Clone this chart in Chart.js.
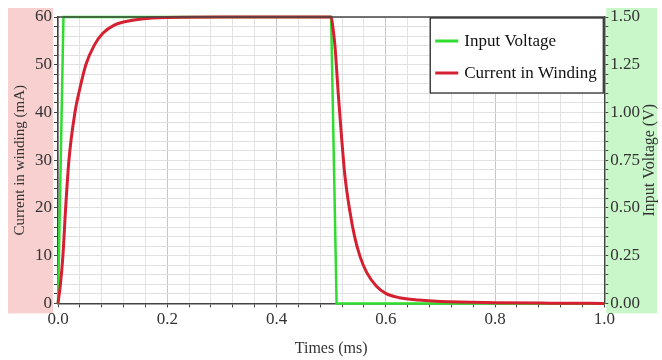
<!DOCTYPE html>
<html lang="en">
<head>
<meta charset="UTF-8">
<title>Current in Winding and Input Voltage</title>
<script src="https://cdn.jsdelivr.net/npm/chart.js"></script>
<style>
  html, body { margin: 0; padding: 0; background: #fff; }
  #wrap { width: 662px; height: 360px; position: relative; }
</style>
</head>
<body>
<div id="wrap"><canvas id="chart"></canvas></div>
<script>
// current in winding (mA) vs time (ms)
const currentTime = [0, 0.004, 0.009, 0.014, 0.02, 0.031, 0.039, 0.051, 0.0665, 0.082, 0.103, 0.122, 0.153, 0.2, 0.3, 0.4, 0.5,
  0.503, 0.507, 0.513, 0.519, 0.525, 0.534, 0.543, 0.553, 0.565, 0.583, 0.6, 0.625, 0.66, 0.7, 0.8, 0.9, 1.0];
const currentMA = [0, 3.5, 10, 20, 30, 40, 44.5, 50, 54.1, 56.6, 58.3, 59, 59.6, 59.9, 60, 60, 60,
  58, 54, 44, 35, 27, 19.5, 14, 9.8, 6.5, 3.6, 2.1, 1.2, 0.7, 0.4, 0.15, 0.05, 0];

// input voltage (V) vs time (ms)
const voltageTime = [0, 0.01, 0.5, 0.51, 1.0];
const voltageV = [0, 1.5, 1.5, 0, 0];

const xTicks = ['0.0', '0.2', '0.4', '0.6', '0.8', '1.0'];
const leftTicks = ['0', '10', '20', '30', '40', '50', '60'];
const rightTicks = ['0.00', '0.25', '0.50', '0.75', '1.00', '1.25', '1.50'];

const serif = "'Liberation Serif', 'Times New Roman', serif";
const dark = '#333';
const axisLine = '#444';

function onStep(v, step) {
  const r = v / step;
  return Math.abs(r - Math.round(r)) < 1e-6;
}

function pickLabel(list, v, step) {
  if (!onStep(v, step)) return '';
  return list[Math.round(v / step)];
}

const extras = {
  id: 'extras',
  beforeDraw(chart) {
    const c = chart.ctx, a = chart.chartArea;
    c.save();
    c.fillStyle = '#f8d0d0';
    c.fillRect(8, a.top - 9, a.left - 13, a.bottom - a.top + 19);
    c.fillStyle = '#c9f7c9';
    c.fillRect(a.right + 2, a.top - 9, 657 - a.right - 2, a.bottom - a.top + 19);
    c.restore();
  },
  afterDraw(chart) {
    const c = chart.ctx, a = chart.chartArea;
    c.save();
    // top frame
    c.strokeStyle = axisLine;
    c.lineWidth = 1.5;
    c.beginPath();
    c.moveTo(a.left, a.top);
    c.lineTo(a.right, a.top);
    c.stroke();

    // right title, read bottom to top
    c.fillStyle = dark;
    c.font = '16px ' + serif;
    c.textAlign = 'center';
    c.textBaseline = 'middle';
    c.translate(650, (a.top + a.bottom) / 2);
    c.rotate(-Math.PI / 2);
    c.fillText('Input Voltage (V)', 0, 0);
    c.restore();

    // legend box
    c.save();
    const bx = a.right - 174, by = a.top + 1, bw = 173, bh = 75;
    c.fillStyle = '#fff';
    c.fillRect(bx, by, bw, bh);
    c.strokeStyle = '#222';
    c.lineWidth = 1.2;
    c.strokeRect(bx, by, bw, bh);
    c.font = '17px ' + serif;
    c.textBaseline = 'middle';
    c.textAlign = 'left';
    chart.data.datasets.forEach((ds, i) => {
      const y = by + 23 + i * 32;
      c.strokeStyle = ds.borderColor;
      c.lineWidth = 3;
      c.beginPath();
      c.moveTo(bx + 5, y);
      c.lineTo(bx + 28, y);
      c.stroke();
      c.fillStyle = '#111';
      c.fillText(ds.label, bx + 34, y + 1);
    });
    c.restore();
  }
};

new Chart(document.getElementById('chart'), {
  type: 'line',
  data: {
    datasets: [{
      label: 'Input Voltage',
      data: voltageTime.map((t, i) => ({ x: t, y: voltageV[i] })),
      yAxisID: 'y1',
      borderColor: '#2fdc2f',
      borderWidth: 2.5,
      pointRadius: 0,
      tension: 0,
      clip: 4,
      order: 2
    }, {
      label: 'Current in Winding',
      data: currentTime.map((t, i) => ({ x: t, y: currentMA[i] })),
      yAxisID: 'y',
      borderColor: '#d42030',
      borderWidth: 3,
      pointRadius: 0,
      cubicInterpolationMode: 'monotone',
      clip: 4,
      order: 1
    }]
  },
  options: {
    responsive: true,
    maintainAspectRatio: false,
    animation: false,
    layout: { padding: { left: 11, right: 20, top: 17, bottom: 0 } },
    plugins: {
      legend: { display: false },
      tooltip: { enabled: false }
    },
    scales: {
      x: {
        type: 'linear',
        min: 0,
        max: 1,
        border: { color: axisLine, width: 1.5 },
        grid: {
          color: ctx => onStep(ctx.tick.value, 0.2) ? '#c6c6c6' : '#e3e3e3',
          tickColor: axisLine,
          tickLength: 4
        },
        ticks: {
          stepSize: 0.04,
          autoSkip: false,
          maxRotation: 0,
          padding: 2,
          color: dark,
          font: { family: serif, size: 17 },
          callback: v => pickLabel(xTicks, v, 0.2)
        },
        title: {
          display: true,
          text: 'Times (ms)',
          color: dark,
          font: { family: serif, size: 16 },
          padding: { top: 7, bottom: 2 }
        }
      },
      y: {
        position: 'left',
        min: 0,
        max: 60,
        border: { color: axisLine, width: 1.5 },
        grid: {
          color: '#e0e0e0',
          tickColor: axisLine,
          tickLength: 4
        },
        ticks: {
          stepSize: 2,
          autoSkip: false,
          padding: 2,
          color: dark,
          font: { family: serif, size: 17 },
          callback: v => pickLabel(leftTicks, v, 10)
        },
        title: {
          display: true,
          text: 'Current in winding (mA)',
          color: dark,
          font: { family: serif, size: 15 },
          padding: { top: 0, bottom: 4 }
        }
      },
      y1: {
        position: 'right',
        min: 0,
        max: 1.5,
        border: { color: axisLine, width: 1.5 },
        grid: {
          drawOnChartArea: false,
          tickColor: axisLine,
          tickLength: 4
        },
        ticks: {
          stepSize: 0.05,
          autoSkip: false,
          padding: 2,
          color: dark,
          font: { family: serif, size: 17 },
          callback: v => pickLabel(rightTicks, v, 0.25)
        }
      }
    }
  },
  plugins: [extras]
});
</script>
</body>
</html>
